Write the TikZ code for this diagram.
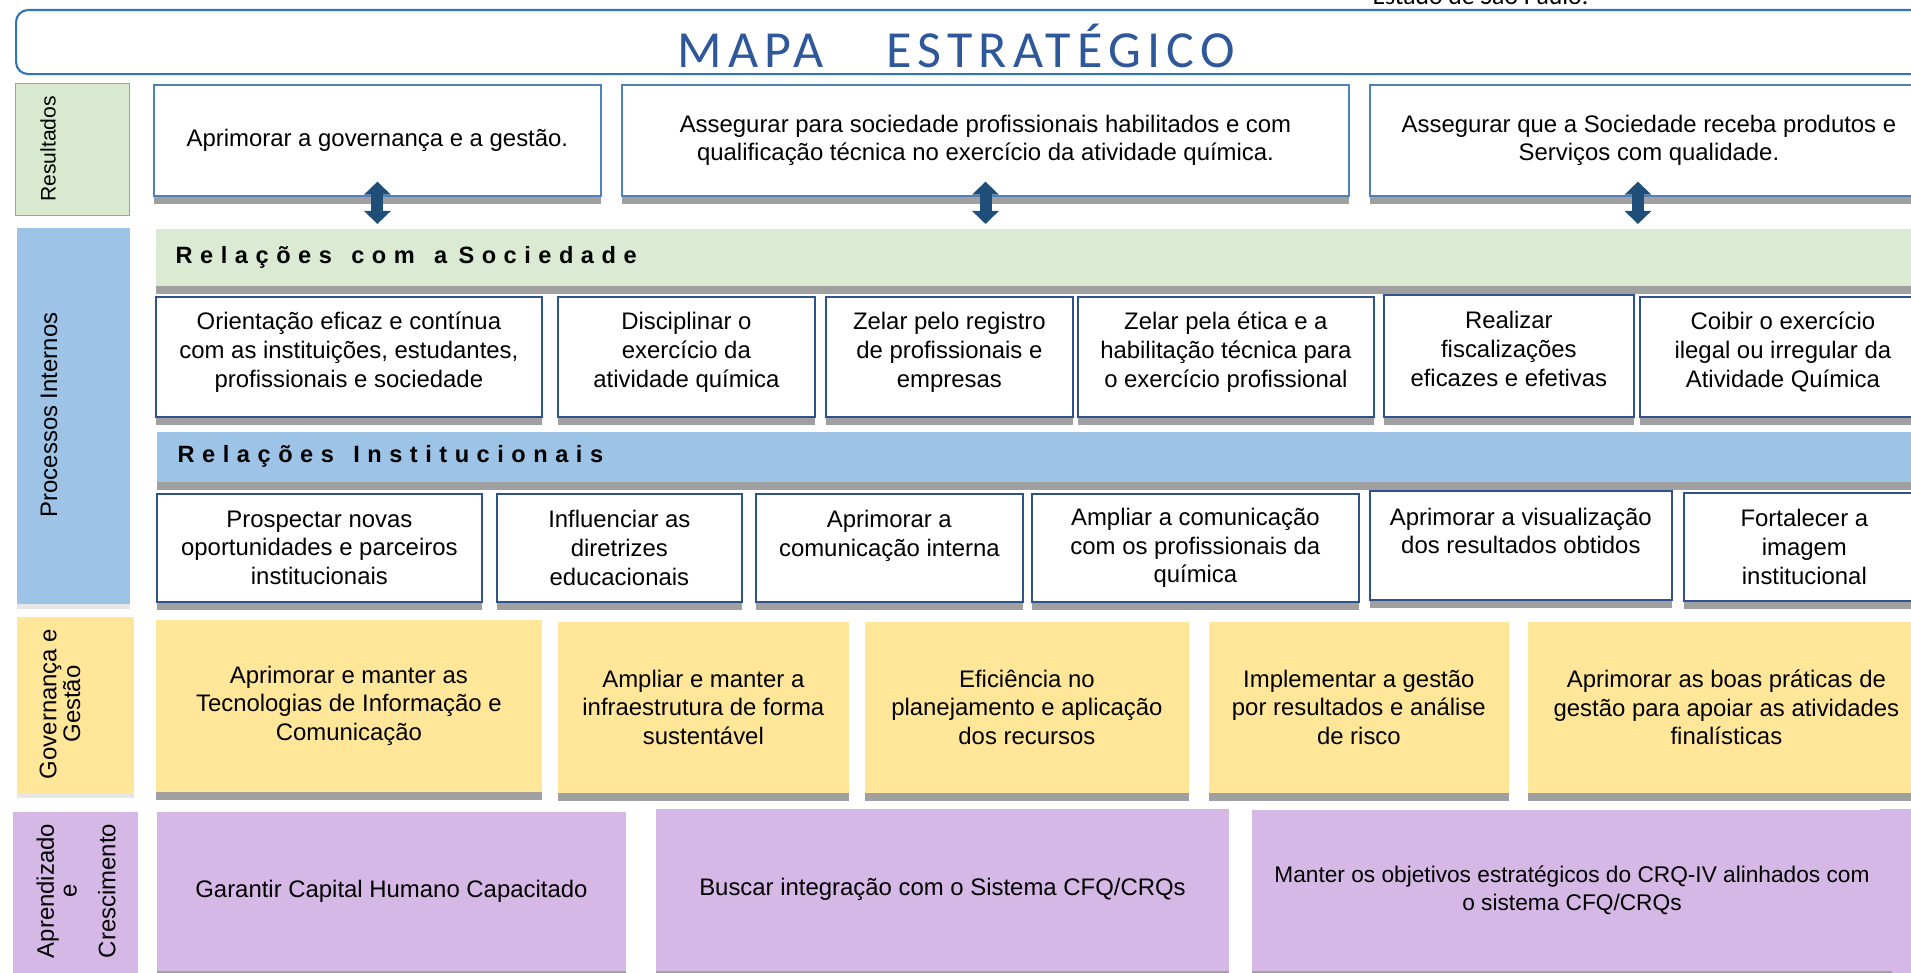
\documentclass[tikz,border=0pt]{standalone}
\usepackage{fontspec}
\setmainfont{Liberation Sans}
\newfontfamily\titlefont{Carlito}[LetterSpace=12]
\newfontfamily\capfont{Carlito}
\newfontfamily\bandfont{Liberation Sans}[LetterSpace=32]
\usetikzlibrary{arrows.meta,shadows}
\definecolor{lg}{RGB}{216,233,208}
\definecolor{sg}{RGB}{218,234,211}
\definecolor{lb}{RGB}{157,195,230}
\definecolor{ly}{RGB}{255,230,153}
\definecolor{lp}{RGB}{213,184,230}
\definecolor{rb}{RGB}{79,129,189}
\definecolor{nb}{RGB}{47,82,143}
\definecolor{tb}{RGB}{46,117,182}
\definecolor{tt}{RGB}{47,88,155}
\definecolor{db}{RGB}{31,78,121}
\definecolor{sh}{RGB}{160,160,160}
\tikzstyle{tbox}=[draw=tb,line width=0.6pt,rounded corners=0.12cm,anchor=north west,minimum width=19.45cm,minimum height=0.64cm,inner sep=0pt]
\tikzstyle{ttl}=[anchor=base,text=tt,inner sep=0pt,font=\titlefont\fontsize{14.8}{16}\selectfont]
\tikzstyle{lab}=[anchor=north west,inner sep=0pt]
\tikzstyle{labtxt}=[rotate=90,align=center,inner sep=0pt,font=\fontsize{6.8}{8.2}\selectfont]
\tikzstyle{goal}=[anchor=north west,align=center,inner sep=0pt,minimum height=1.11cm,draw=rb,line width=0.45pt,fill=white,font=\fontsize{6.8}{8.2}\selectfont,drop shadow={shadow xshift=0cm,shadow yshift=-0.08cm,fill=sh,opacity=1}]
\tikzstyle{proc}=[goal,draw=nb,minimum height=1.2cm]
\tikzstyle{inst}=[goal,draw=nb,minimum height=1.08cm]
\tikzstyle{gbox}=[goal,draw=none,fill=ly,minimum height=1.72cm]
\tikzstyle{abox}=[goal,draw=none,fill=lp,minimum height=1.6cm]
\tikzstyle{band}=[anchor=north west,align=left,inner ysep=0pt,font=\bandfont\bfseries\fontsize{6.7}{7.5}\selectfont,drop shadow={shadow xshift=0cm,shadow yshift=-0.08cm,fill=sh,opacity=1}]
\tikzstyle{dbl}=[<->,>={Triangle[width=0.26cm,length=0.13cm]},line width=0.12cm,draw=db]

\begin{document}
\begin{tikzpicture}[x=0.01cm,y=-0.01cm]
	\path[use as bounding box,clip] (0,0) rectangle (1911,973);

	% titulo
	\node[tbox] (tbox) at (15,9) {};
	\node[ttl] (titulo) at (956,68) {MAPA\hspace{1.2em}ESTRATÉGICO};
	\node[anchor=base west,inner sep=0pt,font=\capfont\fontsize{7.3}{9}\selectfont] (estado) at (1372,5) {Estado de São Paulo.};

	% perspectivas
	\node[lab,fill=lg,draw=sh,line width=0.4pt,minimum width=1.14cm,minimum height=1.32cm] (lres) at (15,83) {};
	\node[labtxt,font=\fontsize{6}{7}\selectfont] (tres) at (48,149) {Resultados};
	\node[lab,fill=lb,minimum width=1.13cm,minimum height=3.76cm,drop shadow={shadow xshift=0cm,shadow yshift=-0.05cm,opacity=0.2}] (lpro) at (16,227) {};
	\node[labtxt] (tpro) at (49,415) {Processos Internos};
	\node[lab,fill=ly,minimum width=1.17cm,minimum height=1.76cm,drop shadow={shadow xshift=0cm,shadow yshift=-0.05cm,opacity=0.2}] (lgov) at (16,616) {};
	\node[labtxt] (tgov) at (60,704) {Governança e\\[-1.5pt]Gestão};
	\node[lab,fill=lp,minimum width=1.25cm,minimum height=1.8cm] (lapr) at (12,811) {};
	\node[labtxt] (tapr) at (76,891) {Aprendizado\\[-1.7pt]e\\[2.8pt]Crescimento};

	% resultados
	\node[goal,minimum width=4.47cm] (r1) at (153,84) {Aprimorar a governança e a gestão.};
	\node[goal,minimum width=7.27cm] (r2) at (621,84) {Assegurar para sociedade profissionais habilitados e com\\qualificação técnica no exercício da atividade química.};
	\node[goal,minimum width=5.58cm] (r3) at (1369,84) {Assegurar que a Sociedade receba produtos e\\Serviços com qualidade.};

	% faixas
	\node[band,fill=sg,text width=17.65cm,inner xsep=0.2cm,minimum height=0.57cm] (soc) at (155,228) {Relações\hspace{5.5pt}com\hspace{5.5pt}a\hspace{3.2pt}Sociedade};
	\node[band,fill=lb,text width=17.63cm,inner xsep=0.21cm,minimum height=0.5cm] (ins) at (156,431) {Relações\hspace{5.5pt}Institucionais};

	\draw[dbl] ([yshift=0.15cm]r1.south) -- ([yshift=0.04cm]r1.south |- soc.north);
	\draw[dbl] ([yshift=0.15cm]r2.south) -- ([yshift=0.04cm]r2.south |- soc.north);
	\draw[dbl] ([xshift=-0.11cm,yshift=0.15cm]r3.south) -- ([xshift=-0.11cm,yshift=0.04cm]r3.south |- soc.north);

	% sociedade
	\node[proc,minimum width=3.86cm] (s1) at (155,296) {Orientação eficaz e contínua\\com as instituições, estudantes,\\profissionais e sociedade\\[-4.2pt]~};
	\node[proc,minimum width=2.57cm] (s2) at (557,296) {Disciplinar o\\exercício da\\atividade química\\[-4.2pt]~};
	\node[proc,minimum width=2.47cm] (s3) at (825,296) {Zelar pelo registro\\de profissionais e\\empresas\\[-4.2pt]~};
	\node[proc,minimum width=2.96cm] (s4) at (1077,296) {Zelar pela ética e a\\habilitação técnica para\\o exercício profissional\\[-4.2pt]~};
	\node[proc,minimum width=2.5cm,minimum height=1.22cm] (s5) at (1383,294) {Realizar\\fiscalizações\\eficazes e efetivas\\[-4.2pt]~};
	\node[proc,minimum width=2.86cm] (s6) at (1639,296) {Coibir o exercício\\ilegal ou irregular da\\Atividade Química\\[-4.2pt]~};

	% institucionais
	\node[inst,minimum width=3.25cm] (i1) at (156,493) {Prospectar novas\\oportunidades e parceiros\\institucionais};
	\node[inst,minimum width=2.45cm] (i2) at (496,493) {Influenciar as\\diretrizes\\educacionais};
	\node[inst,minimum width=2.67cm] (i3) at (755,493) {Aprimorar a\\comunicação interna\\~};
	\node[inst,minimum width=3.27cm] (i4) at (1031,493) {Ampliar a comunicação\\com os profissionais da\\química};
	\node[inst,minimum width=3.02cm,minimum height=1.09cm] (i5) at (1369,490) {Aprimorar a visualização\\dos resultados obtidos\\~};
	\node[inst,minimum width=2.41cm] (i6) at (1683,492) {Fortalecer a\\imagem\\institucional};

	% governanca
	\node[gbox,minimum width=3.86cm] (g1) at (155,619) {Aprimorar e manter as\\Tecnologias de Informação e\\Comunicação};
	\node[gbox,minimum width=2.91cm,minimum height=1.71cm] (g2) at (557,621) {Ampliar e manter a\\infraestrutura de forma\\sustentável};
	\node[gbox,minimum width=3.24cm,minimum height=1.71cm] (g3) at (864,621) {Eficiência no\\planejamento e aplicação\\dos recursos};
	\node[gbox,minimum width=3cm,minimum height=1.71cm] (g4) at (1208,621) {Implementar a gestão\\por resultados e análise\\de risco};
	\node[gbox,minimum width=3.97cm,minimum height=1.71cm] (g5) at (1527,621) {Aprimorar as boas práticas de\\gestão para apoiar as atividades\\finalísticas};

	% aprendizado
	\node[abox,minimum width=4.69cm,minimum height=1.59cm] (a1) at (156,811) {Garantir Capital Humano Capacitado};
	\node[abox,minimum width=5.73cm,minimum height=1.62cm] (a2) at (655,808) {Buscar integração com o Sistema CFQ/CRQs};
	\fill[lp] (1880,809) rectangle (1960,973);
	\node[abox,minimum width=6.4cm,minimum height=1.61cm,font=\fontsize{6.45}{7.9}\selectfont] (a3) at (1251,809) {Manter os objetivos estratégicos do CRQ-IV alinhados com\\o sistema CFQ/CRQs};
\end{tikzpicture}
\end{document}
